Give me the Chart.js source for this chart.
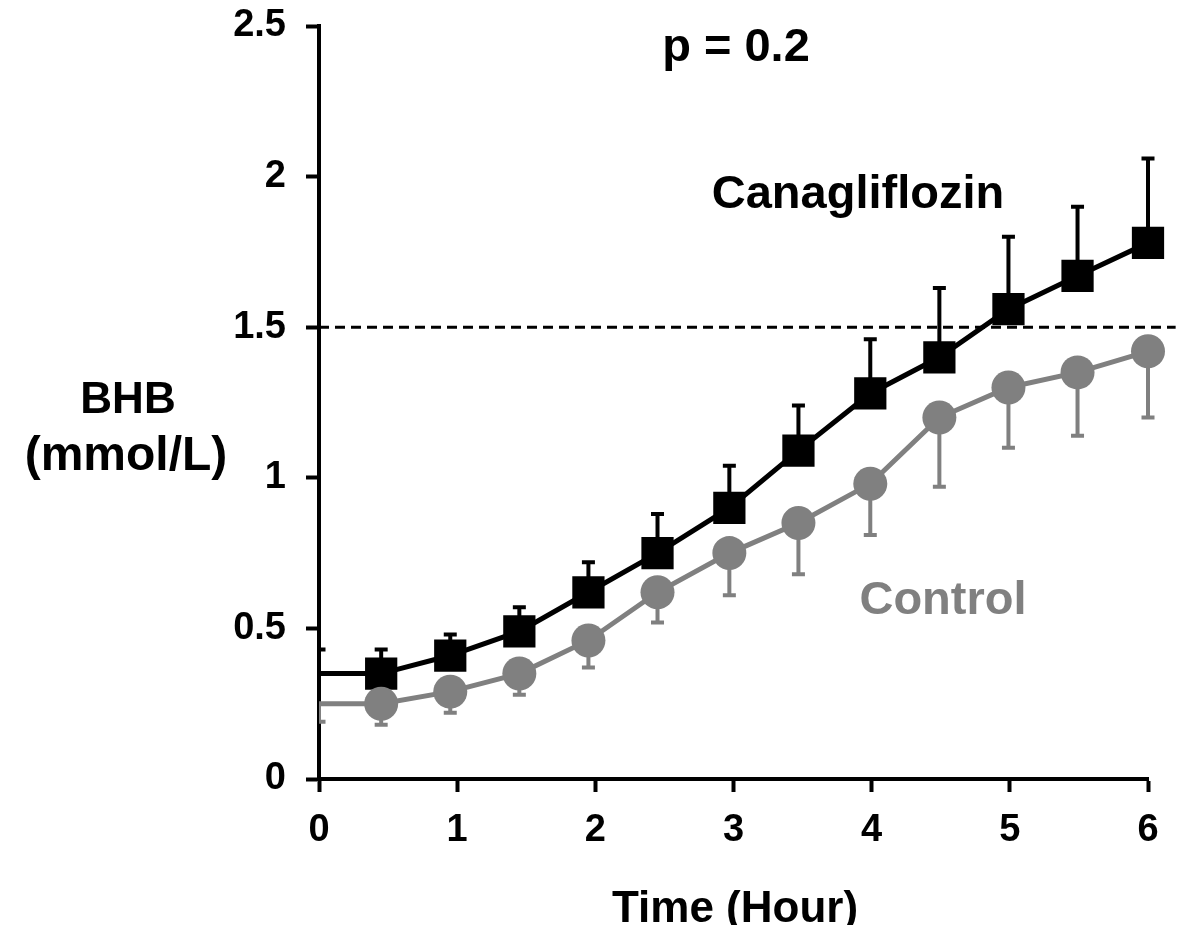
<!DOCTYPE html>
<html lang="en">
<head>
    <meta charset="UTF-8">
    <title>BHB over time</title>
    <script src="https://cdn.jsdelivr.net/npm/chart.js"></script>
    <style>
        html, body { margin: 0; padding: 0; background: #fff; }
        #chartBox { width: 1189px; height: 925px; }
    </style>
</head>
<body>
    <div id="chartBox">
        <canvas id="bhbChart" width="1189" height="925"></canvas>
    </div>

    <script>
        // time points (hours)
        const hours = [0, 0.45, 0.95, 1.45, 1.95, 2.45, 2.97, 3.47, 3.99, 4.49, 4.99, 5.49, 6.0];

        // Canagliflozin: mean BHB and upward error (SEM)
        const canagMean = [0.35, 0.35, 0.41, 0.49, 0.62, 0.75, 0.90, 1.09, 1.28, 1.40, 1.56, 1.67, 1.78];
        const canagErr  = [0.08, 0.08, 0.07, 0.08, 0.10, 0.13, 0.14, 0.15, 0.18, 0.23, 0.24, 0.23, 0.28];

        // Control: mean BHB and downward error (SEM)
        const controlMean = [0.25, 0.25, 0.29, 0.35, 0.46, 0.62, 0.75, 0.85, 0.98, 1.20, 1.30, 1.35, 1.42];
        const controlErr  = [0.06, 0.07, 0.07, 0.07, 0.09, 0.10, 0.14, 0.17, 0.17, 0.23, 0.20, 0.21, 0.22];

        // ketosis threshold line
        const thresholdX = [0, 6.2];
        const thresholdY = 1.5;

        const yTicks = [0, 0.5, 1, 1.5, 2, 2.5];
        const yTickLabels = ['0', '0.5', '1', '1.5', '2', '2.5'];
        const xTicks = [0, 1, 2, 3, 4, 5, 6];

        const FONT = '"Liberation Sans", Arial, sans-serif';
        const GREY = '#808080';

        const toPoints = (xs, ys) => xs.map((x, i) => ({ x: x, y: ys[i] }));

        // draws one-sided error bars (dir 1 = up, -1 = down)
        function drawBars(ctx, xs, ys, xVals, means, errs, dir, color) {
            ctx.strokeStyle = color;
            ctx.lineWidth = 4;
            ctx.lineCap = 'butt';
            xVals.forEach((t, i) => {
                const px = xs.getPixelForValue(t);
                const py0 = ys.getPixelForValue(means[i]);
                const py1 = ys.getPixelForValue(means[i] + dir * errs[i]);
                ctx.beginPath();
                ctx.moveTo(px, py0);
                ctx.lineTo(px, py1);
                ctx.moveTo(px - 6.5, py1);
                ctx.lineTo(px + 6.5, py1);
                ctx.stroke();
            });
        }

        const errorBars = {
            id: 'errorBars',
            beforeDatasetsDraw(chart) {
                const { ctx, chartArea, scales } = chart;
                ctx.save();
                ctx.beginPath();
                ctx.rect(chartArea.left, chartArea.top - 40, chartArea.right - chartArea.left + 40, chartArea.bottom - chartArea.top + 40);
                ctx.clip();
                drawBars(ctx, scales.x, scales.y, hours, canagMean, canagErr, 1, '#000');
                drawBars(ctx, scales.x, scales.y, hours, controlMean, controlErr, -1, GREY);
                ctx.restore();
            }
        };

        // free text: annotations and axis titles
        const labels = {
            id: 'labels',
            afterDraw(chart) {
                const ctx = chart.ctx;
                ctx.save();
                ctx.textAlign = 'center';
                ctx.textBaseline = 'alphabetic';
                ctx.fillStyle = '#000';
                ctx.font = 'bold 47px ' + FONT;
                ctx.fillText('p = 0.2', 736, 61);
                ctx.fillText('Canagliflozin', 858, 208);
                ctx.font = 'bold 44px ' + FONT;
                ctx.fillText('BHB', 128, 413);
                ctx.fillText('Time (Hour)', 735, 922);
                ctx.font = 'bold 48px ' + FONT;
                ctx.fillText('(mmol/L)', 126, 470);
                ctx.fillStyle = GREY;
                ctx.font = 'bold 47px ' + FONT;
                ctx.fillText('Control', 943, 614);
                ctx.restore();
            }
        };

        const ctx = document.getElementById('bhbChart').getContext('2d');
        const bhbChart = new Chart(ctx, {
            type: 'line',
            data: {
                datasets: [
                    {
                        label: 'Control',
                        data: toPoints(hours, controlMean),
                        borderColor: GREY,
                        backgroundColor: GREY,
                        borderWidth: 5,
                        pointStyle: 'circle',
                        pointRadius: c => c.dataIndex === 0 ? 0 : 17,
                        pointBorderWidth: 0,
                        clip: false,
                        order: 1
                    },
                    {
                        label: 'Canagliflozin',
                        data: toPoints(hours, canagMean),
                        borderColor: '#000',
                        backgroundColor: '#000',
                        borderWidth: 5,
                        pointStyle: 'rect',
                        pointRadius: c => c.dataIndex === 0 ? 0 : 22.8,
                        pointBorderWidth: 0,
                        clip: false,
                        order: 2
                    },
                    {
                        label: 'Threshold',
                        data: thresholdX.map(x => ({ x: x, y: thresholdY })),
                        borderColor: '#000',
                        borderWidth: 3,
                        borderDash: [10, 6],
                        pointRadius: 0,
                        clip: false,
                        order: 3
                    }
                ]
            },
            options: {
                responsive: false,
                maintainAspectRatio: false,
                animation: false,
                layout: { padding: { left: 0, right: 41, top: 26, bottom: 0 } },
                plugins: {
                    legend: { display: false },
                    tooltip: { enabled: false }
                },
                scales: {
                    x: {
                        type: 'linear',
                        min: 0,
                        max: 6,
                        afterBuildTicks: s => { s.ticks = xTicks.map(v => ({ value: v })); },
                        afterFit: s => { s.height = 146; s.paddingLeft = 0; s.paddingRight = 0; },
                        grid: { drawOnChartArea: false, tickLength: 13, tickWidth: 4, color: '#000' },
                        border: { color: '#000', width: 4 },
                        ticks: {
                            color: '#000',
                            padding: 16,
                            maxRotation: 0,
                            font: { family: FONT, size: 38, weight: 'bold' }
                        }
                    },
                    y: {
                        min: 0,
                        max: 2.5,
                        afterBuildTicks: s => { s.ticks = yTicks.map(v => ({ value: v })); },
                        afterFit: s => { s.width = 319; s.paddingTop = 0; s.paddingBottom = 0; },
                        grid: { drawOnChartArea: false, tickLength: 13, tickWidth: 4, color: '#000' },
                        border: { color: '#000', width: 4 },
                        ticks: {
                            color: '#000',
                            padding: 20,
                            callback: (v, i) => yTickLabels[i],
                            font: { family: FONT, size: 38, weight: 'bold' }
                        }
                    }
                }
            },
            plugins: [errorBars, labels]
        });
    </script>
</body>
</html>
